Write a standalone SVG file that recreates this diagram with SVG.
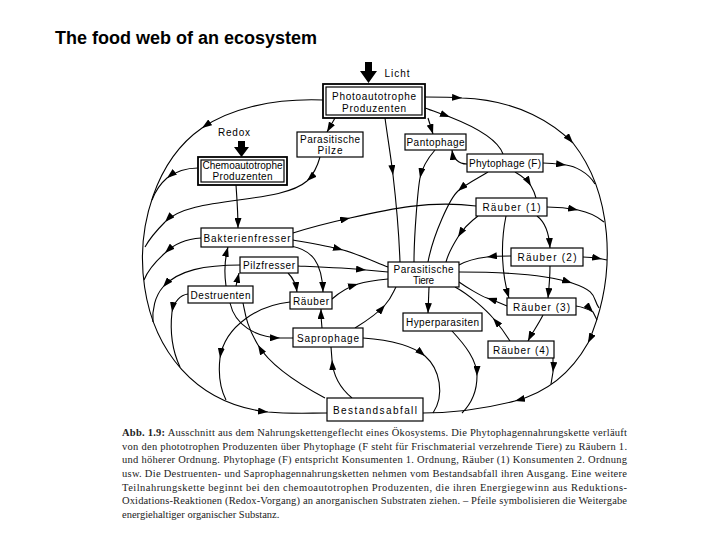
<svg xmlns="http://www.w3.org/2000/svg" width="720" height="540" viewBox="0 0 720 540">
<style>
.b{fill:#fff;stroke:#000;stroke-width:1.2}
.b2{fill:#fff;stroke:#000;stroke-width:1.8}
.t{font-family:"Liberation Sans",Arial,sans-serif;font-size:10px;fill:#000;text-anchor:middle}
.c{fill:none;stroke:#000;stroke-width:1.1}
.m{marker-mid:url(#ah)}
.e{marker-end:url(#ah)}
.cap{font-family:"Liberation Serif","Times New Roman",serif;font-size:10.5px;fill:#222}
</style>
<defs>
<marker id="ah" viewBox="0 0 10 7" refX="10" refY="3.5" markerWidth="10" markerHeight="7" markerUnits="userSpaceOnUse" orient="auto"><path d="M0,0 L10,3.5 L0,7 z" fill="#000"/></marker>
</defs>
<rect width="720" height="540" fill="#fff"/>
<text x="55" y="44" font-family="Liberation Sans,Arial,sans-serif" font-size="18" font-weight="bold">The food web of an ecosystem</text>

<g id="connectors">
<!-- outer left loop -->
<path class="c m" d="M323,100 C270,98 228,110 202,128 C111,191 118,395 268,412 C290,414 308,413 327,413"/>
<path class="c m" d="M198,168 C185,168 175,172 167,178 C160,184 155,192 152,200"/>
<path class="c m" d="M320,157 C317,168 313,175 307,181 C280,205 190,195 165,222 C157,230 150,238 145,247"/>
<path class="c m" d="M201,238 C185,239 173,245 165,253 C155,262 148,270 144,280"/>
<path class="c m" d="M241,265 C205,265 178,270 163,287 C155,296 152,310 153,322"/>
<path class="c m" d="M188,294 C180,295 174,302 172,312 C170,330 172,350 180,367"/>
<path class="c m" d="M290,302 C260,305 225,325 220,358 C218,375 220,388 226,400"/>
<!-- top -->
<path class="c e" d="M236,185 C237,200 238,212 238,228"/>
<path class="c e" d="M335,118 L327,132"/>
<path class="c m" d="M385,118 C388,140 391,158 393,175 S399,235 400,262"/>
<path class="c e" d="M428,118 L433,134"/>
<path class="c m" d="M425,108 C433,111 442,114 450,117 C478,128 498,140 503,154"/>
<!-- outer right loop -->
<path class="c m" d="M425,97 C437,97 450,97 462,98 C520,100 555,125 573,143 C610,190 620,270 588,343 C570,375 545,393 515,401 C480,410 450,413 423,413"/>
<path class="c m" d="M543,163 C550,163 558,164 566,165 S588,172 595,184"/>
<path class="c m" d="M547,207 C558,207 568,208 578,210 S598,217 604,222"/>
<path class="c m" d="M583,257 C590,257 596,258 602,259 L607,260"/>
<path class="c m" d="M459,272 C500,272 545,274 572,283 S592,298 599,308"/>
<path class="c m" d="M576,306 C583,307 588,309 593,312 L597,320"/>
<path class="c m" d="M553,358 C553,363 553,367 553,372 L551,384"/>
<!-- middle -->
<path class="c m" d="M293,233 C315,226 332,222 350,218 C390,209 430,200 476,206"/>
<path class="c m" d="M293,240 C310,243 328,246 343,250 S375,262 388,267"/>
<path class="c e" d="M291,246 C312,250 322,262 323,292"/>
<path class="c m" d="M298,266 C320,267 345,268 366,270 L388,272"/>
<path class="c e" d="M288,273 C293,278 296,284 297,292"/>
<path class="c m" d="M332,299 C340,292 348,287 358,284 S378,280 388,279"/>
<path class="c e" d="M322,328 C321,320 321,315 321,309"/>
<path class="c m" d="M355,328 C368,320 378,313 385,305 S393,292 396,287"/>
<path class="c m" d="M230,303 C235,325 255,337 280,338 L293,338"/>
<path class="c m" d="M325,398 C295,382 270,365 258,345 S245,312 243,303"/>
<path class="c m" d="M352,398 C340,388 333,375 332,360 L331,347"/>
<path class="c e" d="M226,286 C224,272 225,258 228,247"/>
<path class="c e" d="M236,286 L239,273"/>
<path class="c m" d="M435,150 C428,158 422,168 420,178 S414,235 414,262"/>
<path class="c e" d="M467,164 C458,164 453,158 452,150"/>
<path class="c m" d="M515,172 C522,176 528,181 531,186 S535,194 536,198"/>
<path class="c m" d="M488,172 C478,178 466,184 458,191 S433,235 428,262"/>
<path class="c m" d="M478,216 C470,222 463,229 458,237 S448,254 446,262"/>
<path class="c e" d="M506,216 C500,245 502,275 509,298"/>
<path class="c e" d="M537,216 C545,222 549,232 550,248"/>
<path class="c e" d="M550,266 C550,278 549,288 548,298"/>
<path class="c m" d="M511,256 C503,256 495,256 487,257 S466,261 459,265"/>
<path class="c m" d="M507,306 C500,303 493,300 487,298 S466,287 459,282"/>
<path class="c e" d="M543,315 C538,325 532,333 528,341"/>
<path class="c m" d="M510,341 C505,333 499,325 493,318 S470,295 455,287"/>
<path class="c e" d="M429,287 L428,313"/>
<path class="c m" d="M452,331 C465,345 477,360 477,376 S470,405 462,413"/>
<path class="c m" d="M363,338 C390,340 413,346 425,356 C440,369 445,395 433,413"/>
</g>

<g id="licht">
<polygon points="365,62 372,62 372,71 377,71 368.5,83 360,71 365,71" fill="#000"/>
<text class="t" x="397" y="77" textLength="25">Licht</text>
</g>
<g id="redox">
<polygon points="238,141 245,141 245,147 249,147 241.5,157 234,147 238,147" fill="#000"/>
<text class="t" x="234" y="136" textLength="32">Redox</text>
</g>

<g id="photo">
<rect class="b2" x="323" y="84" width="102" height="34"/>
<rect class="b" x="326" y="87" width="96" height="28" stroke-width="1"/>
<text class="t" x="374" y="100" textLength="84">Photoautotrophe</text>
<text class="t" x="374" y="112" textLength="64">Produzenten</text>
</g>
<g id="chemo">
<rect class="b2" x="198" y="157" width="89" height="28"/>
<rect class="b" x="201" y="160" width="83" height="22" stroke-width="1"/>
<text class="t" x="242.5" y="169" textLength="80">Chemoautotrophe</text>
<text class="t" x="242.5" y="180" textLength="60">Produzenten</text>
</g>
<g id="pilze">
<rect class="b" x="297" y="132" width="66" height="25"/>
<text class="t" x="330" y="143" textLength="60">Parasitische</text>
<text class="t" x="330" y="154" textLength="25">Pilze</text>
</g>
<g id="pantophage">
<rect class="b" x="405" y="134" width="61" height="16"/>
<text class="t" x="435.5" y="146" textLength="58">Pantophage</text>
</g>
<g id="phytophage">
<rect class="b" x="467" y="154" width="76" height="18"/>
<text class="t" x="505" y="167" textLength="72">Phytophage (F)</text>
</g>
<g id="raeuber1">
<rect class="b" x="476" y="198" width="71" height="18"/>
<text class="t" x="511.5" y="211" textLength="58">Räuber (1)</text>
</g>
<g id="bakterienfresser">
<rect class="b" x="201" y="228" width="92" height="19"/>
<text class="t" x="247" y="241.5" textLength="87">Bakterienfresser</text>
</g>
<g id="pilzfresser">
<rect class="b" x="240" y="257" width="58" height="16"/>
<text class="t" x="269" y="269" textLength="52">Pilzfresser</text>
</g>
<g id="destruenten">
<rect class="b" x="188" y="286" width="65" height="17"/>
<text class="t" x="220.5" y="298.5" textLength="60">Destruenten</text>
</g>
<g id="raeuber">
<rect class="b" x="290" y="292" width="42" height="17"/>
<text class="t" x="311" y="304.5" textLength="36">Räuber</text>
</g>
<g id="parasitische-tiere">
<rect class="b" x="388" y="262" width="71" height="25"/>
<text class="t" x="423.5" y="273" textLength="60">Parasitische</text>
<text class="t" x="423.5" y="284" textLength="21">Tiere</text>
</g>
<g id="raeuber2">
<rect class="b" x="511" y="248" width="72" height="18"/>
<text class="t" x="547" y="261" textLength="59">Räuber (2)</text>
</g>
<g id="raeuber3">
<rect class="b" x="507" y="298" width="69" height="17"/>
<text class="t" x="541.5" y="310.5" textLength="57">Räuber (3)</text>
</g>
<g id="hyperparasiten">
<rect class="b" x="403" y="313" width="79" height="18"/>
<text class="t" x="442.5" y="326" textLength="73">Hyperparasiten</text>
</g>
<g id="saprophage">
<rect class="b" x="293" y="328" width="70" height="19"/>
<text class="t" x="328" y="341.5" textLength="62">Saprophage</text>
</g>
<g id="raeuber4">
<rect class="b" x="488" y="341" width="66" height="17"/>
<text class="t" x="521" y="353.5" textLength="56">Räuber (4)</text>
</g>
<g id="bestandsabfall">
<rect class="b" x="327" y="398" width="96" height="23"/>
<text class="t" x="375" y="413.5" textLength="84">Bestandsabfall</text>
</g>

<g id="caption" class="cap">
<text x="122" y="436" textLength="505" lengthAdjust="spacing"><tspan font-weight="bold">Abb. 1.9:</tspan> Ausschnitt aus dem Nahrungskettengeflecht eines Ökosystems. Die Phytophagennahrungskette verläuft</text>
<text x="122" y="450" textLength="505" lengthAdjust="spacing">von den phototrophen Produzenten über Phytophage (F steht für Frischmaterial verzehrende Tiere) zu Räubern 1.</text>
<text x="122" y="463" textLength="505" lengthAdjust="spacing">und höherer Ordnung. Phytophage (F) entspricht Konsumenten 1. Ordnung, Räuber (1) Konsumenten 2. Ordnung</text>
<text x="122" y="477" textLength="505" lengthAdjust="spacing">usw. Die Destruenten- und Saprophagennahrungsketten nehmen vom Bestandsabfall ihren Ausgang. Eine weitere</text>
<text x="122" y="491" textLength="505" lengthAdjust="spacing">Teilnahrungskette beginnt bei den chemoautotrophen Produzenten, die ihren Energiegewinn aus Reduktions-</text>
<text x="122" y="504" textLength="505" lengthAdjust="spacing">Oxidations-Reaktionen (Redox-Vorgang) an anorganischen Substraten ziehen. – Pfeile symbolisieren die Weitergabe</text>
<text x="122" y="518">energiehaltiger organischer Substanz.</text>
</g>
</svg>
